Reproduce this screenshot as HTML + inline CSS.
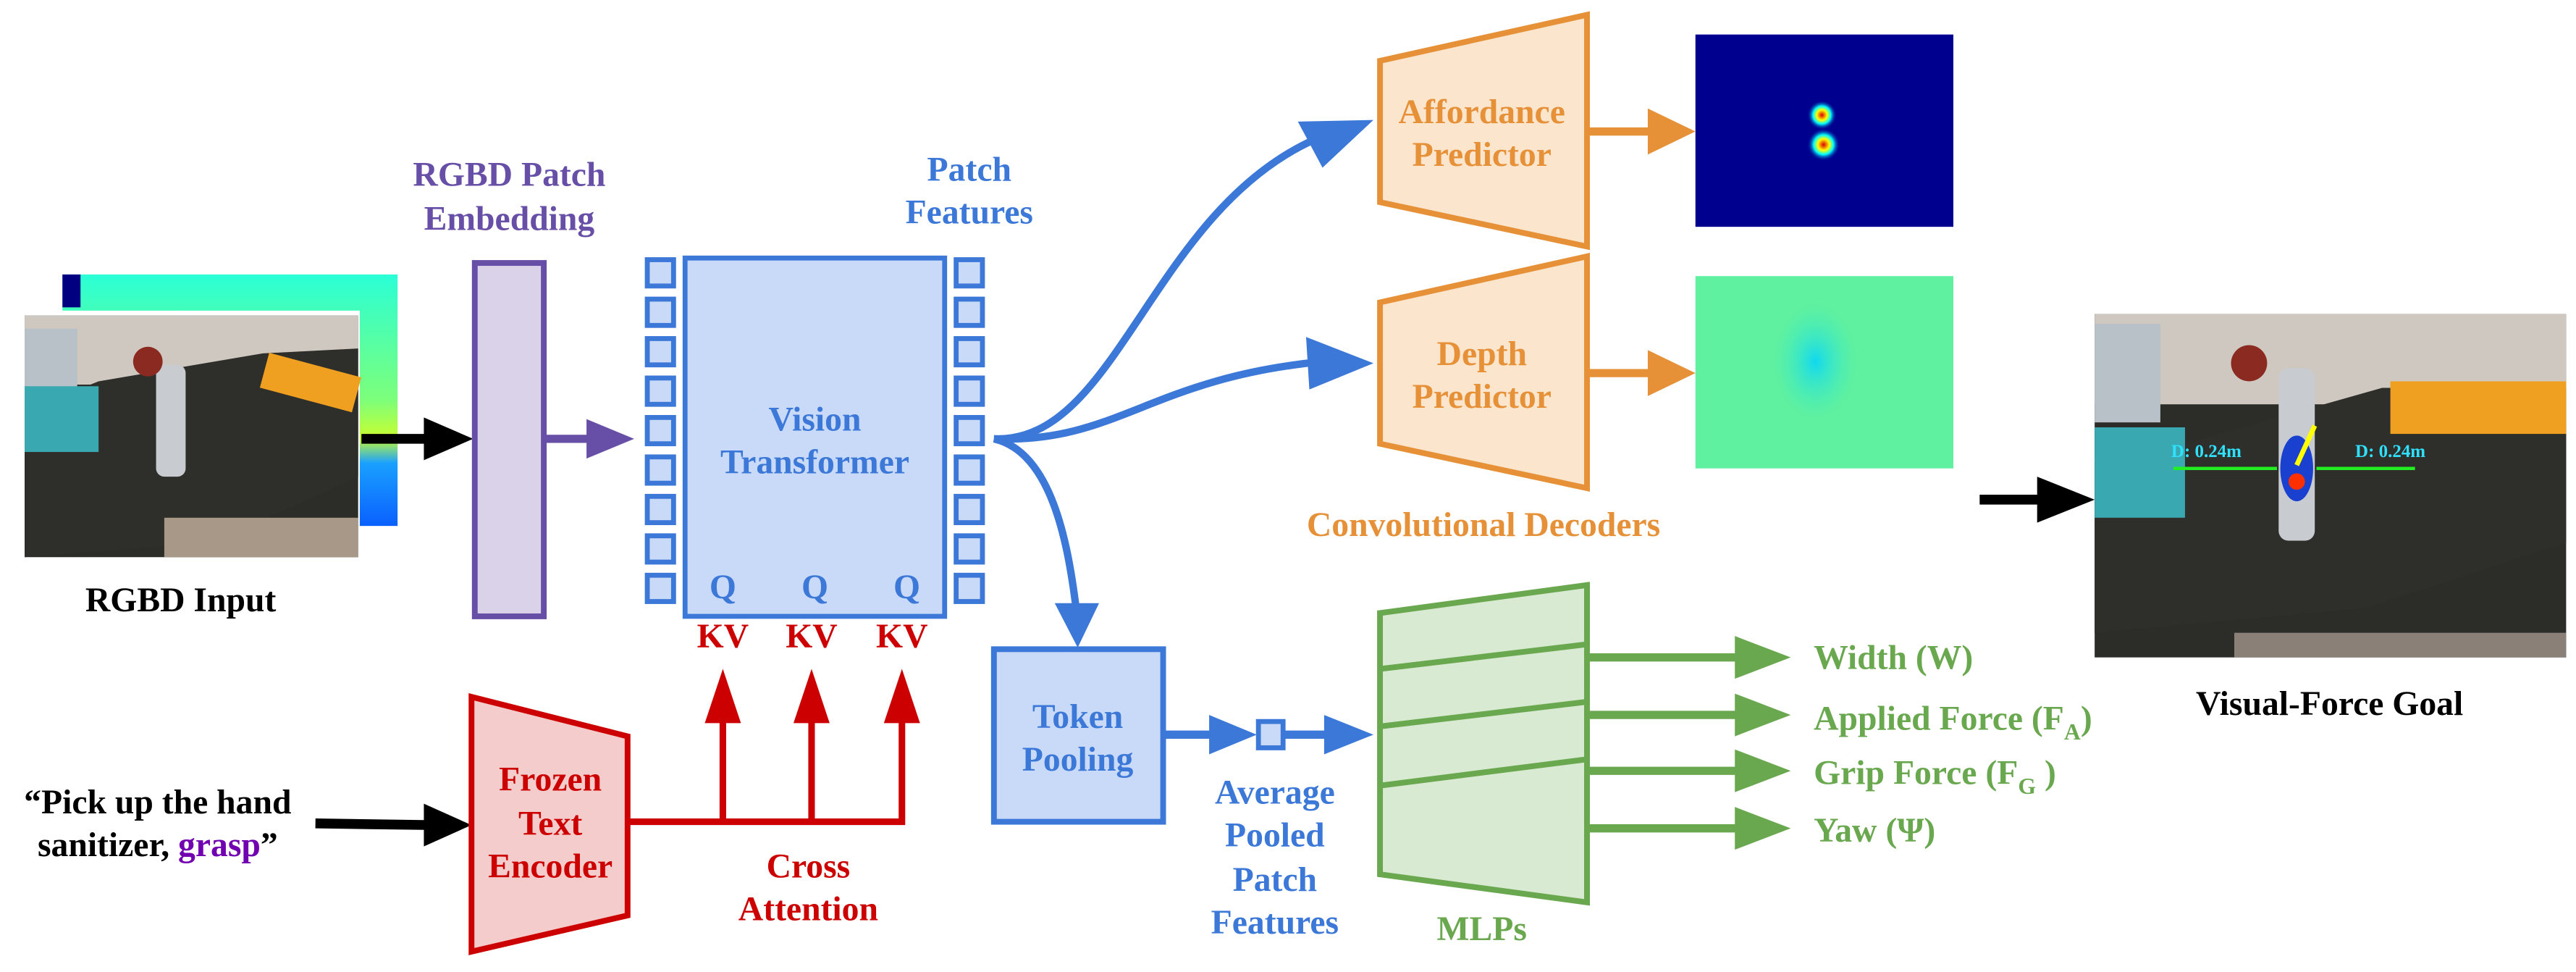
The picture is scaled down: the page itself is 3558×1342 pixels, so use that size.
<!DOCTYPE html>
<html><head><meta charset="utf-8"><style>
html,body{margin:0;padding:0;background:#fff}
svg{display:block}
text{font-family:"Liberation Serif",serif;font-weight:bold;text-anchor:middle}
text.s{text-anchor:start}
</style></head><body>
<svg width="3558" height="1342" viewBox="0 0 1568 591.4" xmlns="http://www.w3.org/2000/svg">
<defs>
<linearGradient id="dg" x1="0" y1="0" x2="0" y2="1"><stop offset="0" stop-color="#2affd6"/><stop offset="0.5" stop-color="#7dff7a"/><stop offset="0.65" stop-color="#c8ff30"/><stop offset="0.75" stop-color="#1aa0ff"/><stop offset="1" stop-color="#0a60ff"/></linearGradient>
<radialGradient id="hm1"><stop offset="0" stop-color="#d00"/><stop offset="0.35" stop-color="#ff0"/><stop offset="0.6" stop-color="#0ff"/><stop offset="1" stop-color="#00008f" stop-opacity="0"/></radialGradient>
<radialGradient id="dp"><stop offset="0" stop-color="#10d8f0"/><stop offset="1" stop-color="#40f0c0" stop-opacity="0"/></radialGradient>
</defs>
<!-- RGBD input -->
<rect x="38" y="167" width="204" height="153" fill="url(#dg)"/>
<rect x="38" y="167" width="11" height="20" fill="#000080"/>
<rect x="12" y="189" width="207" height="153" fill="#fff"/>
<g>
<rect x="15" y="192" width="203" height="147" fill="#2c2c28"/>
<rect x="15" y="192" width="203" height="42" fill="#cfc8c0"/>
<polygon points="60,232 160,215 218,212 218,290 130,330 15,339 15,250" fill="#2e2e2a"/>
<rect x="15" y="200" width="32" height="45" fill="#b8c0c8"/>
<rect x="15" y="235" width="45" height="40" fill="#3aa8b0"/>
<rect x="95" y="222" width="18" height="68" rx="5" fill="#c8ccd0"/>
<circle cx="90" cy="220" r="9" fill="#8b2a20"/>
<rect x="160" y="222" width="58" height="22" fill="#f0a020" transform="rotate(15 190 233)"/>
<rect x="100" y="315" width="118" height="24" fill="#a89888"/>
</g>
<text x="110" y="372" font-size="21" fill="#000">RGBD Input</text>
<!-- black arrow -->
<line x1="220" y1="267" x2="262" y2="267" stroke="#000" stroke-width="6"/>
<path d="M258,254L288,267L258,280z" fill="#000"/>
<!-- Patch embedding -->
<rect x="289" y="160" width="42" height="215" fill="#d9d2e9" stroke="#674ea7" stroke-width="3.5"/>
<text x="310" y="113" font-size="21" fill="#674ea7">RGBD Patch</text>
<text x="310" y="140" font-size="21" fill="#674ea7">Embedding</text>
<line x1="331" y1="267" x2="360" y2="267" stroke="#674ea7" stroke-width="5"/>
<path d="M357,255L386,267L357,279z" fill="#674ea7"/>
<!-- ViT -->
<g fill="#c9daf8" stroke="#3c78d8" stroke-width="3">
<rect x="417" y="157" width="158" height="218"/>
<rect x="394" y="158" width="16" height="16"/><rect x="394" y="182" width="16" height="16"/><rect x="394" y="206" width="16" height="16"/><rect x="394" y="230" width="16" height="16"/><rect x="394" y="254" width="16" height="16"/><rect x="394" y="278" width="16" height="16"/><rect x="394" y="302" width="16" height="16"/><rect x="394" y="326" width="16" height="16"/><rect x="394" y="350" width="16" height="16"/>
<rect x="582" y="158" width="16" height="16"/><rect x="582" y="182" width="16" height="16"/><rect x="582" y="206" width="16" height="16"/><rect x="582" y="230" width="16" height="16"/><rect x="582" y="254" width="16" height="16"/><rect x="582" y="278" width="16" height="16"/><rect x="582" y="302" width="16" height="16"/><rect x="582" y="326" width="16" height="16"/><rect x="582" y="350" width="16" height="16"/>
</g>
<text x="496" y="262" font-size="21" fill="#3c78d8">Vision</text>
<text x="496" y="288" font-size="21" fill="#3c78d8">Transformer</text>
<text x="440" y="364" font-size="21" fill="#3c78d8">Q</text>
<text x="496" y="364" font-size="21" fill="#3c78d8">Q</text>
<text x="552" y="364" font-size="21" fill="#3c78d8">Q</text>
<text x="590" y="110" font-size="21" fill="#3c78d8">Patch</text>
<text x="590" y="136" font-size="21" fill="#3c78d8">Features</text>
<g fill="#cc0000"><text x="440" y="394" font-size="21">KV</text><text x="494" y="394" font-size="21">KV</text><text x="549" y="394" font-size="21">KV</text></g>
<!-- blue curves -->
<g fill="none" stroke="#3c78d8" stroke-width="4.5">
<path d="M605,267 C680,270 700,130 800,85"/>
<path d="M605,267 C680,270 700,230 805,220"/>
<path d="M605,267 C640,275 650,330 655,370"/>
</g>
<path d="M790,74L836,73L805,102z" fill="#3c78d8"/>
<path d="M795,205L836,221L797,237z" fill="#3c78d8"/>
<path d="M642,367L669,367L656,394z" fill="#3c78d8"/>
<!-- Affordance -->
<polygon points="840,37 966,9 966,150 840,123" fill="#fce5cd" stroke="#e69138" stroke-width="3.5"/>
<text x="902" y="75" font-size="21" fill="#e69138">Affordance</text>
<text x="902" y="101" font-size="21" fill="#e69138">Predictor</text>
<polygon points="840,184 966,156 966,297 840,270" fill="#fce5cd" stroke="#e69138" stroke-width="3.5"/>
<text x="902" y="222" font-size="21" fill="#e69138">Depth</text>
<text x="902" y="248" font-size="21" fill="#e69138">Predictor</text>
<text x="903" y="326" font-size="21" fill="#e69138">Convolutional Decoders</text>
<line x1="966" y1="80" x2="1005" y2="80" stroke="#e69138" stroke-width="5"/>
<path d="M1003,66L1032,80L1003,94z" fill="#e69138"/>
<line x1="966" y1="227" x2="1005" y2="227" stroke="#e69138" stroke-width="5"/>
<path d="M1003,213L1032,227L1003,241z" fill="#e69138"/>
<!-- heatmap -->
<rect x="1032" y="21" width="157" height="117" fill="#00008f"/>
<circle cx="1109" cy="70" r="9" fill="url(#hm1)"/>
<circle cx="1110" cy="88" r="10" fill="url(#hm1)"/>
<rect x="1032" y="168" width="157" height="117" fill="#5ff0a0"/>
<ellipse cx="1105" cy="220" rx="25" ry="35" fill="url(#dp)"/>
<!-- visual force goal -->
<line x1="1205" y1="304" x2="1245" y2="304" stroke="#000" stroke-width="6"/>
<path d="M1240,290L1275,304L1240,318z" fill="#000"/>
<rect x="1275" y="191" width="287" height="209" fill="#2c2c28"/>
<rect x="1275" y="191" width="287" height="55" fill="#cfc8c0"/>
<polygon points="1330,270 1450,236 1562,236 1562,330 1440,370 1275,385 1275,280" fill="#2e2e2a"/>
<rect x="1360" y="385" width="202" height="15" fill="#8a8078"/>
<rect x="1275" y="197" width="40" height="60" fill="#b8c0c8"/>
<rect x="1275" y="260" width="55" height="55" fill="#3aa8b0"/>
<rect x="1387" y="224" width="22" height="105" rx="6" fill="#c8ccd0"/>
<circle cx="1369" cy="221" r="11" fill="#8b2a20"/>
<rect x="1455" y="232" width="107" height="32" fill="#f0a020"/>
<ellipse cx="1398" cy="285" rx="10" ry="20" fill="#1a40d0"/>
<circle cx="1398" cy="293" r="5" fill="#ff3000"/>
<line x1="1398" y1="283" x2="1409" y2="259" stroke="#ff0" stroke-width="3"/>
<text x="1343" y="278" font-size="11" fill="#30e0ff" font-family="Liberation Sans">D: 0.24m</text>
<text x="1455" y="278" font-size="11" fill="#30e0ff" font-family="Liberation Sans">D: 0.24m</text>
<line x1="1323" y1="285" x2="1386" y2="285" stroke="#22ee22" stroke-width="2"/>
<line x1="1410" y1="285" x2="1470" y2="285" stroke="#22ee22" stroke-width="2"/>
<text x="1418" y="435" font-size="21" fill="#000">Visual-Force Goal</text>
<!-- Token pooling -->
<rect x="605" y="395" width="103" height="105" fill="#c9daf8" stroke="#3c78d8" stroke-width="3.5"/>
<text x="656" y="443" font-size="21" fill="#3c78d8">Token</text>
<text x="656" y="469" font-size="21" fill="#3c78d8">Pooling</text>
<line x1="708" y1="447" x2="740" y2="447" stroke="#3c78d8" stroke-width="5"/>
<path d="M736,435L765,447L736,459z" fill="#3c78d8"/>
<rect x="766" y="439" width="15" height="16" fill="#c9daf8" stroke="#3c78d8" stroke-width="3"/>
<line x1="781" y1="447" x2="810" y2="447" stroke="#3c78d8" stroke-width="5"/>
<path d="M806,435L836,447L806,459z" fill="#3c78d8"/>
<g font-size="21" fill="#3c78d8"><text x="776" y="489">Average</text><text x="776" y="515">Pooled</text><text x="776" y="542">Patch</text><text x="776" y="568">Features</text></g>
<!-- MLPs -->
<polygon points="840,373 966,356 966,549 840,532" fill="#d9ead3" stroke="#6aa84f" stroke-width="3.5"/>
<g stroke="#6aa84f" stroke-width="3.5"><line x1="840" y1="407" x2="966" y2="392"/><line x1="840" y1="442" x2="966" y2="427"/><line x1="840" y1="478" x2="966" y2="462"/></g>
<text x="902" y="572" font-size="21" fill="#6aa84f">MLPs</text>
<g stroke="#6aa84f" stroke-width="5"><line x1="966" y1="400" x2="1060" y2="400"/><line x1="966" y1="435" x2="1060" y2="435"/><line x1="966" y1="469" x2="1060" y2="469"/><line x1="966" y1="504" x2="1060" y2="504"/></g>
<g fill="#6aa84f"><path d="M1056,387L1090,400L1056,413z"/><path d="M1056,422L1090,435L1056,448z"/><path d="M1056,456L1090,469L1056,482z"/><path d="M1056,491L1090,504L1056,517z"/></g>
<g font-size="21" fill="#6aa84f">
<text class="s" x="1104" y="407">Width (W)</text>
<text class="s" x="1104" y="444">Applied Force (F<tspan font-size="14" dy="6">A</tspan><tspan dy="-6">)</tspan></text>
<text class="s" x="1104" y="477">Grip Force (F<tspan font-size="14" dy="6">G</tspan><tspan dy="-6"> )</tspan></text>
<text class="s" x="1104" y="512">Yaw (Ψ)</text>
</g>
<!-- text encoder -->
<text x="96" y="495" font-size="21" fill="#000">“Pick up the hand</text>
<text x="96" y="521" font-size="21" fill="#000">sanitizer, <tspan fill="#7000b0">grasp</tspan>”</text>
<line x1="192" y1="501" x2="262" y2="502" stroke="#000" stroke-width="6"/>
<path d="M258,489L287,502L258,515z" fill="#000"/>
<polygon points="287,424 382,448 382,557 287,579" fill="#f4cccc" stroke="#cc0000" stroke-width="3.5"/>
<g font-size="21" fill="#cc0000"><text x="335" y="481">Frozen</text><text x="335" y="508">Text</text><text x="335" y="534">Encoder</text></g>
<g stroke="#cc0000" stroke-width="4" fill="none"><polyline points="382,500 549,500 549,435"/><line x1="440" y1="500" x2="440" y2="435"/><line x1="494" y1="500" x2="494" y2="435"/></g>
<g fill="#cc0000"><path d="M429,440L440,407L451,440z"/><path d="M483,440L494,407L505,440z"/><path d="M538,440L549,407L560,440z"/></g>
<g font-size="21" fill="#cc0000"><text x="492" y="534">Cross</text><text x="492" y="560">Attention</text></g>
</svg>
</body></html>
